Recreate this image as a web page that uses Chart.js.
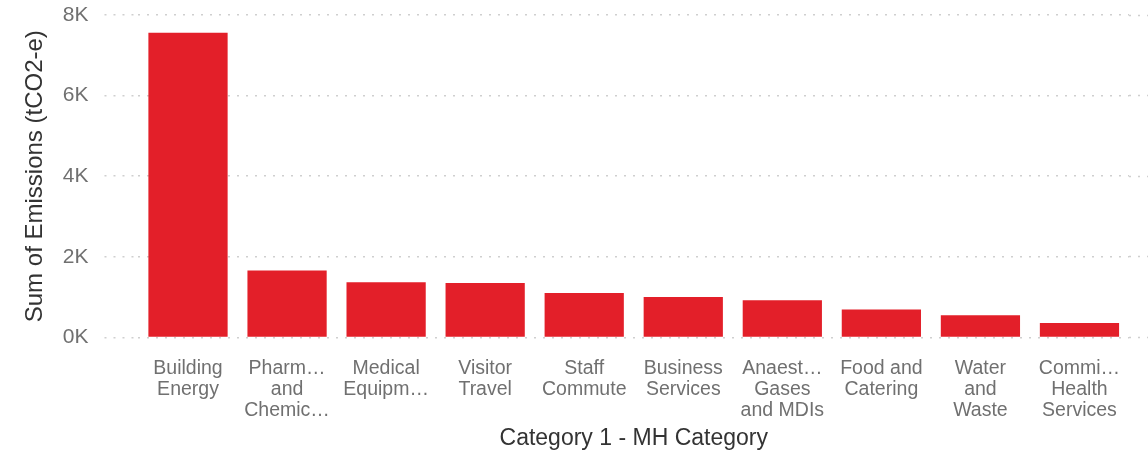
<!DOCTYPE html>
<html>
<head>
<meta charset="utf-8">
<script src="https://cdn.jsdelivr.net/npm/chart.js@4"></script>
<style>
  html, body { margin: 0; padding: 0; background: #ffffff; }
  #wrap { width: 1148px; height: 452px; position: relative; }
</style>
</head>
<body>
<div id="wrap"><canvas id="c" width="1148" height="452"></canvas></div>
<script>
const categories = [
  ["Building", "Energy"],
  ["Pharm\u2026", "and", "Chemic\u2026"],
  ["Medical", "Equipm\u2026"],
  ["Visitor", "Travel"],
  ["Staff", "Commute"],
  ["Business", "Services"],
  ["Anaest\u2026", "Gases", "and MDIs"],
  ["Food and", "Catering"],
  ["Water", "and", "Waste"],
  ["Commi\u2026", "Health", "Services"]
];
const emissions = [7560, 1660, 1370, 1350, 1100, 1000, 920, 690, 550, 360];
const yTickValues = [0, 2000, 4000, 6000, 8000];
const yTickLabels = ["0K", "2K", "4K", "6K", "8K"];
const xTitle = "Category 1 - MH Category";
const yTitle = "Sum of Emissions (tCO2-e)";

const FONT = "'Liberation Sans', Arial, sans-serif";
const gridColor = "#cfcfcf";
const dash = [2, 7];

new Chart(document.getElementById('c'), {
  type: 'bar',
  data: {
    labels: categories,
    datasets: [{
      data: emissions,
      backgroundColor: '#E31F29',
      borderWidth: 0,
      barPercentage: 0.8,
      categoryPercentage: 1.0
    }]
  },
  options: {
    responsive: false,
    animation: false,
    devicePixelRatio: 1,
    layout: { padding: { top: 15, right: 0, bottom: 0, left: 0 } },
    plugins: { legend: { display: false }, tooltip: { enabled: false } },
    scales: {
      x: {
        grid: { display: false, drawTicks: false },
        border: { display: false },
        ticks: {
          color: '#707070',
          font: { family: FONT, size: 19.5, lineHeight: 1.077 },
          padding: 21,
          maxRotation: 0,
          autoSkip: false
        },
        title: {
          display: true,
          text: xTitle,
          color: '#333333',
          font: { family: FONT, size: 23 },
          padding: { top: -18, bottom: 0 }
        }
      },
      y: {
        min: 0,
        max: 8000,
        afterBuildTicks: (scale) => { scale.ticks = yTickValues.map(v => ({ value: v })); },
        afterFit: (scale) => { scale.paddingTop = 0; },
        ticks: {
          color: '#707070',
          font: { family: FONT, size: 21 },
          padding: 16,
          callback: (v) => yTickLabels[yTickValues.indexOf(v)]
        },
        grid: {
          color: gridColor,
          borderDash: dash,
          tickColor: gridColor,
          tickBorderDash: dash,
          drawTicks: true,
          tickLength: 34,
          lineWidth: 1.5,
          tickWidth: 1.5
        },
        border: { display: false, dash: dash },
        title: {
          display: true,
          text: yTitle,
          color: '#333333',
          font: { family: FONT, size: 24 },
          padding: { top: 21, bottom: -3 }
        }
      },
      y2: {
        position: 'right',
        min: 0,
        max: 8000,
        afterBuildTicks: (scale) => { scale.ticks = yTickValues.map(v => ({ value: v })); },
        afterFit: (scale) => { scale.paddingTop = 0; },
        ticks: { display: false },
        grid: {
          drawOnChartArea: false,
          drawTicks: true,
          tickLength: 19,
          tickColor: gridColor,
          tickBorderDash: dash,
          tickWidth: 1.5
        },
        border: { display: false }
      }
    }
  }
});
</script>
</body>
</html>
